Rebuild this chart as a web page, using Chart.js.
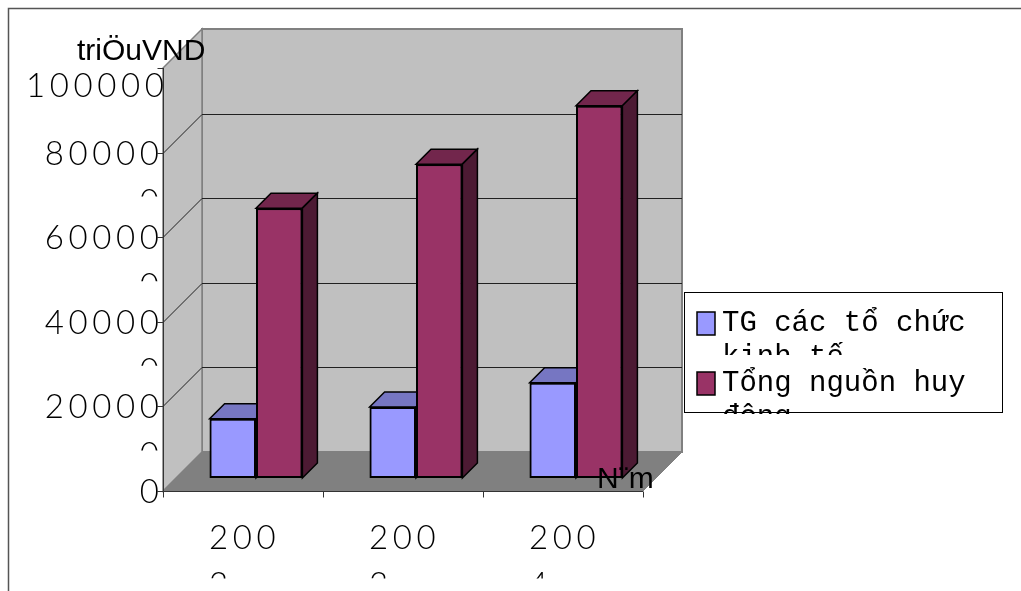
<!DOCTYPE html>
<html>
<head>
<meta charset="utf-8">
<title>Nguồn huy động</title>
<script src="https://cdn.jsdelivr.net/npm/chart.js@4.4.1/dist/chart.umd.min.js"></script>
<style>
  html, body { margin: 0; padding: 0; background: #fff; overflow: hidden; }
  canvas { display: block; }
</style>
</head>
<body>
<canvas id="chart" width="1021" height="591"></canvas>
<script>
// số liệu
const years = ['2002', '2003', '2004'];
const yearTickLabels = [['200', '2'], ['200', '3'], ['200', '4']];
const tgToChuc = [140000, 168000, 225000];
const tongHuyDong = [638000, 742000, 880000];
const yTicks = [0, 200000, 400000, 600000, 800000, 1000000];
const yTickLabels = [['0'], ['20000', '0'], ['40000', '0'], ['60000', '0'], ['80000', '0'], ['100000']];
const seriesNames = [['TG các tổ chức', 'kinh tế'], ['Tổng nguồn huy', 'động']];

// khoảng sâu 3D (px) tính từ mặt phẳng của cột
const FRONT = 13;
const BACK = 26;
const DEPTH = 15;

const faceColors = [
    { front: '#9999ff', top: '#7676c2', side: '#4d4d80' },
    { front: '#993366', top: '#72264c', side: '#4c1a33' }
];

const tickFont = '300 33px Lato';
const tickSpacing = '4.6px';

function poly(ctx, pts, fill, stroke, lw) {
    ctx.beginPath();
    ctx.moveTo(pts[0][0], pts[0][1]);
    for (let i = 1; i < pts.length; i++) ctx.lineTo(pts[i][0], pts[i][1]);
    ctx.closePath();
    if (fill) { ctx.fillStyle = fill; ctx.fill(); }
    if (stroke) { ctx.strokeStyle = stroke; ctx.lineWidth = lw || 1; ctx.stroke(); }
}

function line(ctx, x1, y1, x2, y2) {
    ctx.beginPath();
    ctx.moveTo(x1, y1);
    ctx.lineTo(x2, y2);
    ctx.stroke();
}

const box3d = {
    id: 'box3d',
    beforeDatasetsDraw(chart) {
        const { ctx, scales: { x, y } } = chart;
        const l = x.left, r = x.right;
        const y0 = y.getPixelForValue(0);
        const yTop = y.getPixelForValue(yTicks[yTicks.length - 1]);
        ctx.save();
        // tường sau
        poly(ctx, [[l + BACK, yTop - BACK], [r + BACK, yTop - BACK], [r + BACK, y0 - BACK], [l + BACK, y0 - BACK]], '#c0c0c0', '#808080', 2);
        // tường trái
        poly(ctx, [[l - FRONT, yTop + FRONT], [l + BACK, yTop - BACK], [l + BACK, y0 - BACK], [l - FRONT, y0 + FRONT]], '#c0c0c0', '#808080', 1.5);
        // sàn
        poly(ctx, [[l - FRONT, y0 + FRONT], [r - FRONT, y0 + FRONT], [r + BACK, y0 - BACK], [l + BACK, y0 - BACK]], '#808080', '#808080', 1);
        // lưới
        ctx.strokeStyle = '#202020';
        ctx.lineWidth = 1;
        yTicks.slice(1, -1).forEach(v => {
            const py = Math.round(y.getPixelForValue(v)) + 0.5;
            line(ctx, l - FRONT, py + FRONT, l + BACK, py - BACK);
            line(ctx, l + BACK, py - BACK, r + BACK, py - BACK);
        });
        ctx.restore();
    },
    afterDatasetsDraw(chart) {
        const ctx = chart.ctx;
        ctx.save();
        // vẽ lại từng cột từ trái sang phải để mặt bên bị che đúng
        for (let i = 0; i < years.length; i++) {
            for (let d = 0; d < chart.data.datasets.length; d++) {
                const el = chart.getDatasetMeta(d).data[i];
                const c = faceColors[d];
                const x0 = el.x - el.width / 2, x1 = el.x + el.width / 2;
                const top = el.y, base = el.base;
                el.draw(ctx);
                poly(ctx, [[x0, top], [x1, top], [x1 + DEPTH, top - DEPTH], [x0 + DEPTH, top - DEPTH]], c.top, '#000', 1.5);
                poly(ctx, [[x1, top], [x1 + DEPTH, top - DEPTH], [x1 + DEPTH, base - DEPTH], [x1, base]], c.side, '#000', 1.5);
            }
        }
        ctx.restore();
    },
    afterDraw(chart) {
        const { ctx, scales: { x, y } } = chart;
        const fx0 = x.left - FRONT + 0.5;
        const fx1 = x.right - FRONT;
        const fy0 = y.getPixelForValue(0) + FRONT + 0.5;
        const fyTop = y.getPixelForValue(yTicks[yTicks.length - 1]) + FRONT;
        ctx.save();

        // trục
        ctx.strokeStyle = '#333';
        ctx.lineWidth = 1;
        line(ctx, fx0, fyTop, fx0, fy0);
        line(ctx, fx0, fy0, fx1, fy0);
        yTicks.forEach(v => {
            const py = Math.round(y.getPixelForValue(v) + FRONT) + 0.5;
            line(ctx, fx0 - 6, py, fx0, py);
        });
        for (let i = 0; i <= years.length; i++) {
            const px = Math.round(x.getPixelForValue(i - 0.5) - FRONT) + 0.5;
            line(ctx, px, fy0, px, fy0 + 6);
        }

        // nhãn trục tung
        ctx.fillStyle = '#000';
        ctx.font = tickFont;
        ctx.letterSpacing = tickSpacing;
        ctx.textAlign = 'right';
        yTicks.forEach((v, i) => {
            const py = y.getPixelForValue(v) + FRONT;
            const lines = yTickLabels[i];
            const isTop = i === yTicks.length - 1;
            ctx.save();
            ctx.beginPath();
            ctx.rect(0, py - 42, fx0 + 10, 86);
            ctx.clip();
            lines.forEach((t, k) => {
                ctx.fillText(t, isTop ? fx0 + 5 : fx0, py + (isTop ? 29 : 12) + k * 48);
            });
            ctx.restore();
        });

        // nhãn trục hoành
        ctx.textAlign = 'left';
        years.forEach((yr, i) => {
            const px = x.getPixelForValue(i) - FRONT;
            ctx.save();
            ctx.beginPath();
            ctx.rect(px - 80, fy0 + 10, 160, 77);
            ctx.clip();
            yearTickLabels[i].forEach((t, k) => ctx.fillText(t, px - 34, fy0 + 57 + k * 47));
            ctx.restore();
        });
        ctx.letterSpacing = '0px';

        // tiêu đề trục
        ctx.font = '30px "Liberation Sans"';
        ctx.fillText('triÖuVND', 77, 60);
        ctx.fillText('N¨m', 597, 488);

        // chú giải
        ctx.fillStyle = '#fff';
        ctx.fillRect(684, 292, 319, 121);
        ctx.strokeStyle = '#000';
        ctx.lineWidth = 1;
        ctx.strokeRect(684.5, 292.5, 318, 120);
        ctx.font = '29px "Liberation Mono"';
        seriesNames.forEach((name, k) => {
            const top = 312 + k * 60;
            ctx.fillStyle = faceColors[k].front;
            ctx.fillRect(697, top, 18, 23);
            ctx.lineWidth = 1.5;
            ctx.strokeRect(697, top, 18, 23);
            ctx.save();
            ctx.beginPath();
            ctx.rect(686, top - 18, 315, k === 0 ? 61 : 60);
            ctx.clip();
            ctx.fillStyle = '#000';
            name.forEach((t, j) => ctx.fillText(t, 722, top + 19 + j * 34));
            ctx.restore();
        });

        // khung ngoài
        ctx.strokeStyle = '#555';
        ctx.lineWidth = 1.5;
        ctx.beginPath();
        ctx.moveTo(8.5, 591);
        ctx.lineTo(8.5, 8.5);
        ctx.lineTo(1021, 8.5);
        ctx.stroke();
        ctx.restore();
    }
};

const ctx = document.getElementById('chart');
new Chart(ctx, {
    type: 'bar',
    data: {
        labels: years,
        datasets: [{
            label: seriesNames[0].join(' '),
            data: tgToChuc,
            backgroundColor: faceColors[0].front,
            borderColor: '#000',
            borderWidth: 2,
            borderSkipped: false
        }, {
            label: seriesNames[1].join(' '),
            data: tongHuyDong,
            backgroundColor: faceColors[1].front,
            borderColor: '#000',
            borderWidth: 2,
            borderSkipped: false
        }]
    },
    options: {
        responsive: false,
        animation: false,
        events: [],
        devicePixelRatio: 1,
        categoryPercentage: 0.58,
        barPercentage: 1,
        layout: {
            padding: { left: 176, right: 365, top: 55, bottom: 113 }
        },
        plugins: {
            legend: { display: false },
            tooltip: { enabled: false }
        },
        scales: {
            x: { display: false, offset: true },
            y: { display: false, min: 0, max: 1000000 }
        }
    },
    plugins: [box3d]
});
</script>
</body>
</html>
